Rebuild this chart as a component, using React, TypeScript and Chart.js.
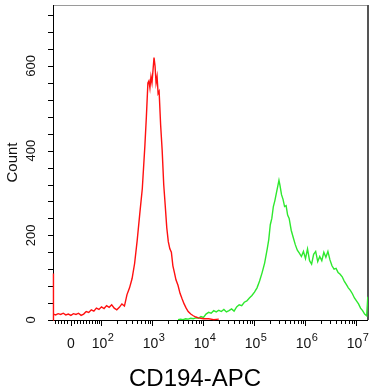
import { useEffect, useRef } from "react";
import { Chart, registerables } from "chart.js";

Chart.register(...registerables);

// Histogram 1 (red): x in decades (10^x), counts per bin
const redX = [
  1.05, 1.052, 1.064, 1.1, 1.15, 1.2, 1.25, 1.3, 1.35, 1.4, 1.45, 1.5, 1.55, 1.6, 1.65, 1.7, 1.75, 1.8, 1.85, 1.9, 1.95,
  2.0, 2.05, 2.1, 2.15, 2.2, 2.25, 2.3, 2.35, 2.4, 2.45, 2.5, 2.55, 2.6, 2.65, 2.7, 2.75, 2.8, 2.85, 2.88, 2.91,
  2.93, 2.95, 2.97, 2.99, 3.01, 3.03, 3.05, 3.07, 3.09, 3.11, 3.13, 3.16, 3.19, 3.22, 3.25, 3.28, 3.31, 3.34, 3.37,
  3.4, 3.43, 3.46, 3.5, 3.54, 3.58, 3.62, 3.66, 3.7, 3.75, 3.8, 3.85, 3.9, 3.95, 4.0, 4.1, 4.2, 4.3,
];
const redCounts = [
  0, 110, 14, 12, 15, 13, 16, 12, 14, 11, 15, 13, 16, 11, 14, 20, 18, 24, 21, 28, 25,
  31, 27, 34, 30, 36, 28, 24, 30, 38, 33, 60, 76, 98, 134, 188, 250, 310, 410, 480, 560,
  565, 548, 575, 560, 590, 620, 600, 560, 575, 535, 540, 460, 400, 320, 270, 218, 185, 168, 160,
  128, 112, 95, 82, 63, 50, 38, 28, 20, 14, 10, 7, 5, 4, 3, 3, 1, 2,
];

// Histogram 2 (green)
const greenX = [
  3.5, 3.55, 3.6, 3.65, 3.7, 3.75, 3.8, 3.85, 3.9, 3.95, 4.0, 4.05, 4.1, 4.15, 4.2, 4.25, 4.3, 4.35, 4.4, 4.45,
  4.5, 4.55, 4.6, 4.65, 4.7, 4.75, 4.8, 4.85, 4.9, 4.95, 5.0, 5.05, 5.1, 5.15, 5.2, 5.25, 5.28, 5.31, 5.34, 5.37,
  5.4, 5.43, 5.46, 5.48, 5.5, 5.53, 5.56, 5.59, 5.62, 5.65, 5.68, 5.72, 5.76, 5.8, 5.84, 5.88, 5.92, 5.96, 6.0,
  6.04, 6.08, 6.12, 6.16, 6.2, 6.24, 6.28, 6.32, 6.36, 6.4, 6.44, 6.48, 6.52, 6.56, 6.6, 6.64, 6.68, 6.72, 6.76,
  6.8, 6.84, 6.88, 6.92, 6.96, 7.0, 7.04, 7.08, 7.12, 7.16, 7.2, 7.222,
];
const greenCounts = [
  1, 2, 1, 3, 2, 4, 3, 5, 4, 8, 6, 14, 18, 16, 22, 19, 23, 20, 25, 19,
  22, 26, 21, 31, 36, 34, 42, 45, 52, 58, 66, 76, 92, 112, 135, 168, 190, 225, 240, 268,
  282, 300, 318, 330, 318, 296, 285, 268, 270, 248, 240, 212, 195, 178, 165, 158, 150, 162, 145,
  168, 140, 132, 155, 162, 138, 150, 140, 160, 148, 162, 142, 128, 120, 122, 112, 108, 102, 92,
  84, 76, 70, 62, 52, 45, 38, 28, 22, 14, 10, 55,
];

// Axes
const xMin = 1.049;
const xMax = 7.226;
const yMin = 0;
const yMax = 744;
const yLabelValues = [0, 200, 400, 600];
const yTickMarks = [0, 40, 80, 120, 160, 200, 240, 280, 320, 360, 400, 440, 480, 520, 560, 600, 640, 680, 720];
const xMajorDecades = [2, 3, 4, 5, 6, 7];
const xMajorExponents = ["2", "3", "4", "5", "6", "7"];
const xMinorMultipliers = [2, 3, 4, 5, 6, 7, 8, 9];
const xLinearRegionTicks = [1.088, 1.147, 1.206, 1.265, 1.324, 1.461, 1.52, 1.578, 1.637, 1.696, 1.755, 1.814, 1.863, 1.912, 1.951];
const xZeroPosition = 1.402;
const xZeroLabel = "0";
const yTitle = "Count";
const xTitle = "CD194-APC";

const FONT = "'Liberation Sans', Arial, Helvetica, sans-serif";

const axesPlugin = {
  id: "flowAxes",
  beforeDatasetsDraw(chart: any) {
    const { ctx, chartArea } = chart;
    const xs = chart.scales.x;
    const ys = chart.scales.y;
    const L = chartArea.left;
    const R = chartArea.right;
    const T = chartArea.top;
    const B = chartArea.bottom;
    ctx.save();
    // top + right frame (gray)
    ctx.strokeStyle = "#9a9a9a";
    ctx.lineWidth = 1;
    ctx.beginPath();
    ctx.moveTo(L, T + 0.5);
    ctx.lineTo(R, T + 0.5);
    ctx.stroke();
    ctx.strokeStyle = "#555";
    ctx.lineWidth = 2;
    ctx.beginPath();
    ctx.moveTo(R, T);
    ctx.lineTo(R, B);
    ctx.stroke();
    // left + bottom axis (black)
    ctx.strokeStyle = "#000";
    ctx.lineWidth = 1;
    ctx.beginPath();
    ctx.moveTo(L + 0.5, T);
    ctx.lineTo(L + 0.5, B + 1);
    ctx.moveTo(L - 5, B + 0.5);
    ctx.lineTo(R, B + 0.5);
    ctx.stroke();
    // y ticks
    ctx.beginPath();
    for (const v of yTickMarks) {
      const py = Math.round(ys.getPixelForValue(v)) + 0.5;
      ctx.moveTo(L - 5, py);
      ctx.lineTo(L, py);
    }
    // x ticks
    const xTick = (u: number, len: number) => {
      if (u < xMin || u > xMax) return;
      const px = Math.round(xs.getPixelForValue(u)) + 0.5;
      ctx.moveTo(px, B);
      ctx.lineTo(px, B + len);
    };
    for (const d of xMajorDecades) {
      xTick(d, 6);
      for (const m of xMinorMultipliers) xTick(d + Math.log10(m), 4);
    }
    for (const u of xLinearRegionTicks) xTick(u, 4);
    xTick(xZeroPosition, 6);
    ctx.stroke();

    // y labels (rotated)
    ctx.fillStyle = "#111";
    ctx.font = `13px ${FONT}`;
    ctx.textAlign = "center";
    ctx.textBaseline = "alphabetic";
    for (const v of yLabelValues) {
      const py = ys.getPixelForValue(v);
      ctx.save();
      ctx.translate(35, py);
      ctx.rotate(-Math.PI / 2);
      ctx.fillText(String(v), 0, 0);
      ctx.restore();
    }
    // y title
    ctx.save();
    ctx.font = `15px ${FONT}`;
    ctx.translate(17, (T + B) / 2);
    ctx.rotate(-Math.PI / 2);
    ctx.fillText(yTitle, 0, 0);
    ctx.restore();

    // x labels
    ctx.textAlign = "left";
    const baseFont = `14px ${FONT}`;
    const supFont = `11px ${FONT}`;
    xMajorDecades.forEach((d, i) => {
      const px = xs.getPixelForValue(d);
      ctx.font = baseFont;
      const w1 = ctx.measureText("10").width;
      ctx.font = supFont;
      const w2 = ctx.measureText(xMajorExponents[i]).width;
      const start = px - (w1 + w2) / 2 + 1;
      ctx.font = baseFont;
      ctx.fillText("10", start, 348);
      ctx.font = supFont;
      ctx.fillText(xMajorExponents[i], start + w1 + 0.5, 341);
    });
    ctx.font = baseFont;
    ctx.textAlign = "center";
    ctx.fillText(xZeroLabel, xs.getPixelForValue(xZeroPosition), 348);

    // x title
    ctx.font = `24px ${FONT}`;
    ctx.fillStyle = "#000";
    ctx.fillText(xTitle, 195, 386);
    ctx.restore();
  },
};

export default function App() {
  const ref = useRef<HTMLCanvasElement | null>(null);
  useEffect(() => {
    if (!ref.current) return;
    const chart = new Chart(ref.current, {
      type: "line",
      data: {
        datasets: [
          {
            label: "red",
            data: redX.map((x, i) => ({ x, y: redCounts[i] })),
            borderColor: "#ff1010",
            borderWidth: 1.4,
            pointRadius: 0,
            tension: 0,
            fill: false,
            clip: false,
          },
          {
            label: "green",
            data: greenX.map((x, i) => ({ x, y: greenCounts[i] })),
            borderColor: "#2ee82e",
            borderWidth: 1.4,
            pointRadius: 0,
            tension: 0,
            fill: false,
          },
        ],
      },
      options: {
        animation: false,
        responsive: true,
        maintainAspectRatio: false,
        layout: { padding: { left: 53, right: 7, top: 5, bottom: 72 } },
        plugins: { legend: { display: false }, tooltip: { enabled: false } },
        scales: {
          x: { type: "linear", min: xMin, max: xMax, display: false },
          y: { type: "linear", min: yMin, max: yMax, display: false },
        },
      },
      plugins: [axesPlugin],
    });
    return () => chart.destroy();
  }, []);
  return (
    <div style={{ position: "absolute", left: 0, top: 0, width: 375, height: 392, background: "#fff" }}>
      <canvas ref={ref} />
    </div>
  );
}
